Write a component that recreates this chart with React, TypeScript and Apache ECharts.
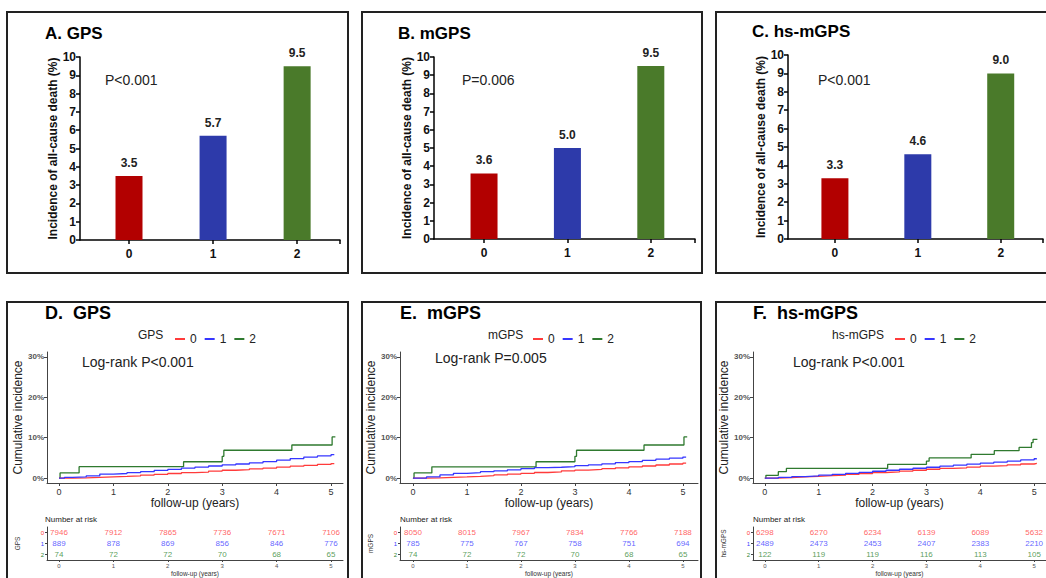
import React, { useEffect, useRef } from "react";
import * as echarts from "echarts";

// ---------- data ----------
const barCategories = [0, 1, 2];
const gpsIncidence = [3.5, 5.7, 9.5];
const mgpsIncidence = [3.6, 5.0, 9.5];
const hsmgpsIncidence = [3.3, 4.6, 9.0];

const groupNames = ["0", "1", "2"];
const yearTicks = [0, 1, 2, 3, 4, 5];
const percentTicks = [0, 10, 20, 30];

// cumulative incidence curves: [years, %]
const gpsKm0 = [[0, 0], [0.25, 0.08], [0.5, 0.18], [0.75, 0.3], [1, 0.42], [1.25, 0.55], [1.5, 0.75], [1.75, 0.95], [2, 1.15], [2.25, 1.35], [2.5, 1.5], [2.75, 1.75], [3, 1.95], [3.25, 2.1], [3.5, 2.3], [3.75, 2.5], [4, 2.75], [4.25, 2.95], [4.5, 3.15], [4.75, 3.4], [5, 3.6], [5.06, 3.66]];
const gpsKm1 = [[0, 0], [0.1, 0.2], [0.25, 0.3], [0.5, 0.55], [0.75, 1.0], [1, 1.15], [1.25, 1.35], [1.5, 1.6], [1.75, 1.9], [2, 2.15], [2.25, 2.5], [2.5, 2.75], [2.75, 3.0], [3, 3.3], [3.25, 3.5], [3.5, 3.8], [3.75, 4.1], [4, 4.45], [4.25, 4.85], [4.5, 5.2], [4.75, 5.5], [5, 5.8], [5.06, 5.9]];
const gpsKm2 = [[0, 0], [0.02, 1.3], [0.37, 2.85], [2.29, 4.05], [3.0, 5.4], [3.03, 6.9], [4.28, 8.2], [5.02, 10.2], [5.08, 10.2]];

const mgpsKm0 = [[0, 0], [0.25, 0.08], [0.5, 0.2], [0.75, 0.32], [1, 0.45], [1.25, 0.6], [1.5, 0.8], [1.75, 1.0], [2, 1.2], [2.25, 1.4], [2.5, 1.55], [2.75, 1.8], [3, 2.0], [3.25, 2.15], [3.5, 2.35], [3.75, 2.55], [4, 2.8], [4.25, 3.0], [4.5, 3.25], [4.75, 3.5], [5, 3.7], [5.06, 3.8]];
const mgpsKm1 = [[0, 0], [0.25, 0.3], [0.5, 0.8], [0.75, 1.2], [1, 1.35], [1.25, 1.6], [1.5, 1.8], [1.75, 2.05], [2, 2.35], [2.25, 2.6], [2.5, 2.7], [2.75, 2.85], [3, 3.1], [3.25, 3.3], [3.5, 3.55], [3.75, 3.85], [4, 4.1], [4.25, 4.4], [4.5, 4.7], [4.75, 4.95], [5, 5.2], [5.06, 5.3]];
const mgpsKm2 = [[0, 0], [0.02, 1.3], [0.35, 2.8], [2.28, 4.05], [3.0, 5.4], [3.03, 6.9], [4.28, 8.2], [5.02, 10.2], [5.08, 10.2]];

const hsmgpsKm0 = [[0, 0], [0.25, 0.15], [0.5, 0.3], [0.75, 0.45], [1, 0.6], [1.25, 0.75], [1.5, 0.95], [1.75, 1.15], [2, 1.4], [2.25, 1.55], [2.5, 1.75], [2.75, 1.95], [3, 2.2], [3.25, 2.4], [3.5, 2.55], [3.75, 2.75], [4, 2.95], [4.25, 3.1], [4.5, 3.3], [4.75, 3.5], [5, 3.65], [5.05, 3.7]];
const hsmgpsKm1 = [[0, 0], [0.25, 0.2], [0.5, 0.4], [0.75, 0.55], [1, 0.75], [1.25, 0.95], [1.5, 1.2], [1.75, 1.45], [2, 1.7], [2.25, 1.95], [2.5, 2.2], [2.75, 2.45], [3, 2.7], [3.25, 2.95], [3.5, 3.2], [3.75, 3.45], [4, 3.7], [4.25, 3.95], [4.5, 4.2], [4.75, 4.5], [5, 4.8], [5.05, 4.9]];
const hsmgpsKm2 = [[0, 0], [0.02, 0.7], [0.25, 1.6], [0.4, 2.4], [2.28, 3.4], [3.0, 4.2], [3.05, 5.0], [3.83, 5.9], [4.26, 6.8], [4.72, 7.6], [4.95, 8.8], [4.98, 9.6], [5.06, 9.6]];

// number at risk
const gpsRisk0 = [7946, 7912, 7865, 7736, 7671, 7106];
const gpsRisk1 = [889, 878, 869, 856, 846, 776];
const gpsRisk2 = [74, 72, 72, 70, 68, 65];
const mgpsRisk0 = [8050, 8015, 7967, 7834, 7766, 7188];
const mgpsRisk1 = [785, 775, 767, 758, 751, 694];
const mgpsRisk2 = [74, 72, 72, 70, 68, 65];
const hsmgpsRisk0 = [6298, 6270, 6234, 6139, 6089, 5632];
const hsmgpsRisk1 = [2489, 2473, 2453, 2407, 2383, 2210];
const hsmgpsRisk2 = [122, 119, 119, 116, 113, 105];

// ---------- styles / layout ----------
const FONT = 'Arial, "Liberation Sans", Helvetica, sans-serif';
const barColors = ["#b20000", "#2d3aaa", "#4a7a2a"];
const kmColors = ["#ff3b3b", "#3636ff", "#2f7a2f"];
const riskColors = ["#ff3a3a", "#3a3aff", "#2f862f"];

const barPanels = [
  { title: "A. GPS", p: "P<0.001", values: gpsIncidence, left: 80, width: 260, top: 57, height: 183, min: -0.583, max: 2.51, titleX: 45, titleY: 33, pX: 105, pY: 80, box: [7, 12, 341, 261] },
  { title: "B. mGPS", p: "P=0.006", values: mgpsIncidence, left: 434, width: 261, top: 57, height: 182, min: -0.6, max: 2.53, titleX: 398, titleY: 33, pX: 462, pY: 80, box: [362, 12, 340, 261] },
  { title: "C. hs-mGPS", p: "P<0.001", values: hsmgpsIncidence, left: 788, width: 255, top: 55, height: 184, min: -0.566, max: 2.51, titleX: 752, titleY: 31, pX: 818, pY: 80, box: [716, 12, 345, 261] },
];

const kmPanels = [
  { title: "D.  GPS", factor: "GPS", logrank: "Log-rank P<0.001", curves: [gpsKm0, gpsKm1, gpsKm2], risk: [gpsRisk0, gpsRisk1, gpsRisk2], left: 47, width: 296, min: -0.22, max: 5.22, titleX: 45, legendTitleX: 138, legendX: 170, lrX: 82, lrY: 362, box: [7, 302, 341, 290] },
  { title: "E.  mGPS", factor: "mGPS", logrank: "Log-rank P=0.005", curves: [mgpsKm0, mgpsKm1, mgpsKm2], risk: [mgpsRisk0, mgpsRisk1, mgpsRisk2], left: 400, width: 298, min: -0.24, max: 5.28, titleX: 400, legendTitleX: 488, legendX: 528, lrX: 435, lrY: 358, box: [362, 302, 339, 290] },
  { title: "F.  hs-mGPS", factor: "hs-mGPS", logrank: "Log-rank P<0.001", curves: [hsmgpsKm0, hsmgpsKm1, hsmgpsKm2], risk: [hsmgpsRisk0, hsmgpsRisk1, hsmgpsRisk2], left: 753, width: 296, min: -0.22, max: 5.22, titleX: 753, legendTitleX: 832, legendX: 890, lrX: 793, lrY: 362, box: [716, 302, 345, 290] },
];

const KM_TOP = 352;
const KM_HEIGHT = 131;
const RISK_TOP = 527;
const RISK_HEIGHT = 34;

function buildOption() {
  const grid: any[] = [];
  const xAxis: any[] = [];
  const yAxis: any[] = [];
  const series: any[] = [];
  const legend: any[] = [];
  const graphic: any[] = [];

  // bar panels
  barPanels.forEach((p, k) => {
    grid.push({ left: p.left, top: p.top, width: p.width, height: p.height });
    const gi = grid.length - 1;
    xAxis.push({
      type: "value", gridIndex: gi, min: p.min, max: p.max,
      splitLine: { show: false },
      axisLine: { show: true, onZero: false, lineStyle: { color: "#000", width: 1.5 } },
      axisTick: { show: true, length: 4, customValues: [...barCategories, p.max], lineStyle: { color: "#000", width: 1.5 } },
      axisLabel: { customValues: barCategories, color: "#111", fontWeight: "bold", fontSize: 12, margin: 8, fontFamily: FONT },
    });
    yAxis.push({
      type: "value", gridIndex: gi, min: 0, max: 10, interval: 1,
      splitLine: { show: false },
      axisLine: { show: true, onZero: false, lineStyle: { color: "#000", width: 1.5 } },
      axisTick: { show: true, length: 4, lineStyle: { color: "#000", width: 1.5 } },
      axisLabel: { color: "#111", fontWeight: "bold", fontSize: 12, margin: 4, fontFamily: FONT },
      name: "Incidence of all-cause death (%)", nameLocation: "middle", nameGap: 19,
      nameTextStyle: { color: "#111", fontWeight: "bold", fontSize: 12, fontFamily: FONT },
    });
    series.push({
      type: "bar", name: "incidence" + k, xAxisIndex: gi, yAxisIndex: gi,
      barWidth: 27,
      data: p.values.map((v, i) => ({ value: [barCategories[i], v], itemStyle: { color: barColors[i] } })),
      label: {
        show: true, position: "top", distance: 7, color: "#222", fontWeight: "bold", fontSize: 12, fontFamily: FONT,
        formatter: (d: any) => Number(d.value[1]).toFixed(1),
      },
    });
    graphic.push({ type: "rect", shape: { x: p.box[0], y: p.box[1], width: p.box[2], height: p.box[3] }, style: { fill: "none", stroke: "#222", lineWidth: 2 }, silent: true });
    graphic.push({ type: "text", x: p.titleX, y: p.titleY, style: { text: p.title, fill: "#000", font: `bold 17px ${FONT}`, verticalAlign: "middle" } });
    graphic.push({ type: "text", x: p.pX, y: p.pY, style: { text: p.p, fill: "#222", font: `14px ${FONT}`, verticalAlign: "middle" } });
  });

  // KM panels
  kmPanels.forEach((p) => {
    grid.push({ left: p.left, top: KM_TOP, width: p.width, height: KM_HEIGHT });
    const gi = grid.length - 1;
    xAxis.push({
      type: "value", gridIndex: gi, min: p.min, max: p.max,
      splitLine: { show: false },
      axisLine: { show: true, onZero: false, lineStyle: { color: "#444", width: 1 } },
      axisTick: { show: true, length: 3, customValues: yearTicks, lineStyle: { color: "#444" } },
      axisLabel: { customValues: yearTicks, color: "#333", fontSize: 9, margin: 4, fontFamily: FONT },
      name: "follow-up (years)", nameLocation: "middle", nameGap: 14,
      nameTextStyle: { color: "#222", fontSize: 12, fontFamily: FONT },
    });
    yAxis.push({
      type: "value", gridIndex: gi, min: -1.2, max: 31.2,
      splitLine: { show: false },
      axisLine: { show: true, onZero: false, lineStyle: { color: "#444", width: 1 } },
      axisTick: { show: true, length: 3, customValues: percentTicks, lineStyle: { color: "#444" } },
      axisLabel: { customValues: percentTicks, color: "#555", fontSize: 8, fontWeight: "bold", margin: 3, fontFamily: FONT, formatter: (v: number) => v + "%" },
      name: "Cumulative incidence", nameLocation: "middle", nameGap: 23,
      nameTextStyle: { color: "#222", fontSize: 12, fontFamily: FONT },
    });
    p.curves.forEach((c, g) => {
      series.push({
        type: "line", name: groupNames[g], xAxisIndex: gi, yAxisIndex: gi, step: "end",
        showSymbol: false, symbol: "none", color: kmColors[g],
        lineStyle: { color: kmColors[g], width: 1.3 }, data: c, z: g === 2 ? 3 : 4,
      });
    });
    legend.push({
      data: groupNames, left: p.legendX, top: 328, icon: "rect", itemWidth: 10, itemHeight: 2, itemGap: 8,
      selectedMode: false, textStyle: { color: "#222", fontSize: 12, fontFamily: FONT },
    });
    graphic.push({ type: "rect", shape: { x: p.box[0], y: p.box[1], width: p.box[2], height: p.box[3] }, style: { fill: "none", stroke: "#222", lineWidth: 2 }, silent: true });
    graphic.push({ type: "text", x: p.titleX, y: 313, style: { text: p.title, fill: "#000", font: `bold 18px ${FONT}`, verticalAlign: "middle" } });
    graphic.push({ type: "text", x: p.legendTitleX, y: 335, style: { text: p.factor, fill: "#222", font: `12px ${FONT}`, verticalAlign: "middle" } });
    graphic.push({ type: "text", x: p.lrX, y: p.lrY, style: { text: p.logrank, fill: "#222", font: `14px ${FONT}`, verticalAlign: "middle" } });
    graphic.push({ type: "text", x: p.titleX, y: 519, style: { text: "Number at risk", fill: "#222", font: `8px ${FONT}`, verticalAlign: "middle" } });
  });

  // risk tables
  kmPanels.forEach((p, k) => {
    grid.push({ left: p.left, top: RISK_TOP, width: p.width, height: RISK_HEIGHT });
    const gi = grid.length - 1;
    xAxis.push({
      type: "value", gridIndex: gi, min: p.min, max: p.max,
      splitLine: { show: false },
      axisLine: { show: true, onZero: false, lineStyle: { color: "#444", width: 1 } },
      axisTick: { show: true, length: 2, customValues: yearTicks, lineStyle: { color: "#444" } },
      axisLabel: { customValues: yearTicks, color: "#555", fontSize: 6, margin: 3, fontFamily: FONT },
      name: "follow-up (years)", nameLocation: "middle", nameGap: 10,
      nameTextStyle: { color: "#333", fontSize: 6.5, fontFamily: FONT },
    });
    yAxis.push({
      type: "category", gridIndex: gi, data: groupNames, inverse: true,
      axisLine: { show: true, onZero: false, lineStyle: { color: "#444", width: 1 } },
      axisTick: { show: true, length: 2, alignWithLabel: true, lineStyle: { color: "#444" } },
      axisLabel: { fontSize: 6, margin: 3, fontFamily: FONT, color: (v: any) => riskColors[Number(v)] || "#333" },
      name: p.factor, nameLocation: "middle", nameGap: 26,
      nameTextStyle: { color: "#333", fontSize: 6.5, fontFamily: FONT },
    });
    p.risk.forEach((row, g) => {
      series.push({
        type: "scatter", name: "risk" + k + "_" + g, xAxisIndex: gi, yAxisIndex: gi,
        symbolSize: 0.1, itemStyle: { color: "rgba(0,0,0,0)" },
        data: row.map((n, j) => [yearTicks[j], g, n]),
        label: {
          show: true, position: "inside", color: riskColors[g], fontSize: 8, fontFamily: FONT,
          formatter: (d: any) => String(d.value[2]),
        },
      });
    });
  });

  return {
    animation: false,
    backgroundColor: "#fff",
    textStyle: { fontFamily: FONT },
    grid, xAxis, yAxis, series, legend, graphic,
  };
}

export default function App() {
  const ref = useRef<HTMLDivElement>(null);
  useEffect(() => {
    if (!ref.current) return;
    const chart = echarts.init(ref.current, null, { renderer: "svg" });
    chart.setOption(buildOption() as any);
    return () => chart.dispose();
  }, []);
  return (
    <div
      ref={ref}
      style={{ position: "absolute", left: 0, top: 0, width: 1046, height: 578, background: "#fff" }}
    />
  );
}
